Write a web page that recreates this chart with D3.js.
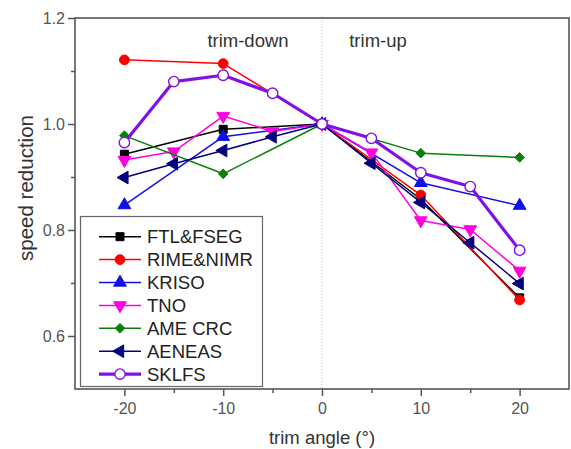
<!DOCTYPE html>
<html><head><meta charset="utf-8">
<script src="https://cdn.jsdelivr.net/npm/d3@7"></script>
<style>body{margin:0;background:#fff}svg{display:block;font-family:"Liberation Sans",Arial,sans-serif}</style>
</head><body><svg id="c" width="571" height="449"></svg>
<script>
const seriesNames = ["FTL&FSEG","RIME&NIMR","KRISO","TNO","AME CRC","AENEAS","SKLFS"];
const xFTL = [-20,-10,0,10,20];
const yFTL = [0.943,0.990,1.0,0.858,0.672];
const xRIME = [-20,-10,0,10,20];
const yRIME = [1.121,1.114,1.0,0.866,0.668];
const xKRISO = [-20,-10,0,10,20];
const yKRISO = [0.847,0.976,1.0,0.889,0.846];
const xTNO = [-20,-15,-10,-5,0,5,10,15,20];
const yTNO = [0.932,0.948,1.015,0.986,1.0,0.946,0.818,0.801,0.723];
const xAME = [-20,-10,0,10,20];
const yAME = [0.978,0.906,1.0,0.945,0.937];
const xAENEAS = [-20,-15,-10,-5,0,5,10,15,20];
const yAENEAS = [0.899,0.925,0.950,0.976,1.0,0.926,0.852,0.776,0.699];
const xSKLFS = [-20,-15,-10,-5,0,5,10,15,20];
const ySKLFS = [0.965,1.080,1.092,1.058,1.0,0.973,0.908,0.882,0.762];
const xTicks = [-20,-10,0,10,20];
const xMinor = [-15,-5,5,15];
const yTicks = [0.6,0.8,1.0,1.2];
const yMinor = [0.7,0.9,1.1];

const styles = [
  {c:"#000000", sym:d3.symbolSquare, rot:0, w:1.5, fill:true, size:64},
  {c:"#ff0000", sym:d3.symbolCircle, rot:0, w:1.5, fill:true, size:75},
  {c:"#1010e8", sym:d3.symbolTriangle, rot:0, w:1.5, fill:true, size:70},
  {c:"#ff00e0", sym:d3.symbolTriangle, rot:180, w:1.5, fill:true, size:70},
  {c:"#0a800a", sym:d3.symbolDiamond2, rot:0, w:1.5, fill:true, size:60},
  {c:"#000080", sym:d3.symbolTriangle, rot:-90, w:1.5, fill:true, size:70},
  {c:"#8010e8", sym:d3.symbolCircle, rot:0, w:3.2, fill:false, size:85}
];
const xs = [xFTL,xRIME,xKRISO,xTNO,xAME,xAENEAS,xSKLFS];
const ys = [yFTL,yRIME,yKRISO,yTNO,yAME,yAENEAS,ySKLFS];

const svg = d3.select("#c");
const x = d3.scaleLinear().domain([-25,25]).range([75,569]);
const y = d3.scaleLinear().domain([0.5,1.2]).range([389,18]);
const axisCol = "#555";

// dotted zero line
svg.append("line").attr("x1",x(0)).attr("x2",x(0)).attr("y1",y(1.2)).attr("y2",y(0.5))
  .attr("stroke","#bbb").attr("stroke-width",1).attr("stroke-dasharray","1,2");

// frame
svg.append("rect").attr("x",x(-25)).attr("y",y(1.2)).attr("width",x(25)-x(-25)).attr("height",y(0.5)-y(1.2))
  .attr("fill","none").attr("stroke",axisCol).attr("stroke-width",1.6);

// axes
const xAx = svg.append("g").attr("transform",`translate(0,${y(0.5)})`)
  .call(d3.axisBottom(x).tickValues(xTicks).tickSize(7).tickPadding(7).tickFormat(d=>String(d)));
const xAxm = svg.append("g").attr("transform",`translate(0,${y(0.5)})`)
  .call(d3.axisBottom(x).tickValues(xMinor).tickSize(4).tickFormat(""));
const yAx = svg.append("g").attr("transform",`translate(${x(-25)},0)`)
  .call(d3.axisLeft(y).tickValues(yTicks).tickSize(7).tickPadding(3).tickFormat(d3.format(".1f")));
const yAxm = svg.append("g").attr("transform",`translate(${x(-25)},0)`)
  .call(d3.axisLeft(y).tickValues(yMinor).tickSize(4).tickFormat(""));
[xAx,xAxm,yAx,yAxm].forEach(g=>{
  g.select(".domain").remove();
  g.selectAll(".tick line").attr("stroke",axisCol).attr("stroke-width",1.5);
  g.selectAll(".tick text").attr("fill","#555").style("font-size","16px").style("font-family","'Liberation Sans',Arial,sans-serif");
});

// axis titles
svg.append("text").attr("x",x(0)).attr("y",444).attr("text-anchor","middle")
  .attr("fill","#333").style("font-size","18.5px").text("trim angle (°)");
svg.append("text").attr("transform","translate(33,188) rotate(-90)").attr("text-anchor","middle")
  .attr("fill","#333").style("font-size","20.5px").text("speed reduction");

// annotations
svg.append("text").attr("x",248).attr("y",47).attr("text-anchor","middle").attr("fill","#333")
  .style("font-size","18.5px").text("trim-down");
svg.append("text").attr("x",378).attr("y",47).attr("text-anchor","middle").attr("fill","#333")
  .style("font-size","18.5px").text("trim-up");

// series
const line = d3.line().x(d=>x(d[0])).y(d=>y(d[1]));
const marker = (g, s) => g.append("path")
  .attr("d", d3.symbol().type(s.sym).size(s.size)())
  .attr("fill", s.fill ? s.c : "#fff")
  .attr("stroke", s.c).attr("stroke-width", s.fill ? 1 : 1.4);

xs.forEach((xv,i)=>{
  const s = styles[i];
  const pts = xv.map((v,j)=>[v, ys[i][j]]);
  svg.append("path").datum(pts).attr("d",line).attr("fill","none")
    .attr("stroke",s.c).attr("stroke-width",s.w).attr("stroke-linejoin","round");
  pts.forEach(p=>{
    const g = svg.append("g").attr("transform",`translate(${x(p[0])},${y(p[1])}) rotate(${s.rot})`);
    marker(g,s);
  });
});

// legend
const lg = svg.append("g");
lg.append("rect").attr("x",80.5).attr("y",216.5).attr("width",182).attr("height",170)
  .attr("fill","#fff").attr("stroke","#666").attr("stroke-width",1.2);
seriesNames.forEach((n,i)=>{
  const s = styles[i];
  const cy = 236.7 + i*22.9;
  lg.append("line").attr("x1",99).attr("x2",141).attr("y1",cy).attr("y2",cy)
    .attr("stroke",s.c).attr("stroke-width",s.w);
  const g = lg.append("g").attr("transform",`translate(120,${cy}) rotate(${s.rot})`);
  marker(g,s);
  lg.append("text").attr("x",147).attr("y",cy+6.5).attr("fill","#222")
    .style("font-size","18.5px").text(n);
});
</script></body></html>
